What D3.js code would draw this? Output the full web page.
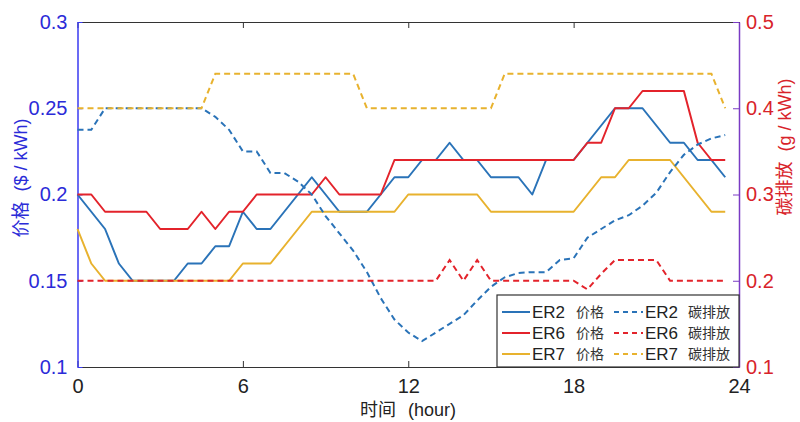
<!DOCTYPE html>
<html>
<head>
<meta charset="utf-8">
<script src="https://cdn.jsdelivr.net/npm/d3@7"></script>
<style>
  html, body { margin: 0; padding: 0; background: #fff; }
  svg { display: block; }
  text { font-family: "Liberation Sans", Arial, sans-serif; }
  .cjk { font-family: "Noto Sans CJK SC", sans-serif; }
</style>
</head>
<body>
<svg id="chart" width="800" height="422"></svg>
<script>
// Half-hour time steps, 0 .. 23.5 h
const hours = d3.range(0, 24, 0.5);

// Electricity price ($/kWh)
const er2Price = [0.20,0.19,0.18,0.16,0.15,0.15,0.15,0.15,0.16,0.16,0.17,0.17,
                  0.19,0.18,0.18,0.19,0.20,0.21,0.20,0.19,0.19,0.19,0.20,0.21,
                  0.21,0.22,0.22,0.23,0.22,0.22,0.21,0.21,0.21,0.20,0.22,0.22,
                  0.22,0.23,0.24,0.25,0.25,0.25,0.24,0.23,0.23,0.22,0.22,0.21];
const er6Price = [0.20,0.20,0.19,0.19,0.19,0.19,0.18,0.18,0.18,0.19,0.18,0.19,
                  0.19,0.20,0.20,0.20,0.20,0.20,0.21,0.20,0.20,0.20,0.20,0.22,
                  0.22,0.22,0.22,0.22,0.22,0.22,0.22,0.22,0.22,0.22,0.22,0.22,
                  0.22,0.23,0.23,0.25,0.25,0.26,0.26,0.26,0.26,0.23,0.22,0.22];
const er7Price = [0.18,0.16,0.15,0.15,0.15,0.15,0.15,0.15,0.15,0.15,0.15,0.15,
                  0.16,0.16,0.16,0.17,0.18,0.19,0.19,0.19,0.19,0.19,0.19,0.19,
                  0.20,0.20,0.20,0.20,0.20,0.20,0.19,0.19,0.19,0.19,0.19,0.19,
                  0.19,0.20,0.21,0.21,0.22,0.22,0.22,0.22,0.21,0.20,0.19,0.19];

// Carbon emission (g/kWh)
const er2Carbon = [0.375,0.375,0.40,0.40,0.40,0.40,0.40,0.40,0.40,0.40,0.39,0.375,
                   0.35,0.35,0.325,0.325,0.315,0.30,0.275,0.255,0.235,0.21,0.18,0.155,
                   0.14,0.13,0.14,0.15,0.16,0.177,0.193,0.204,0.209,0.21,0.21,0.224,
                   0.226,0.25,0.26,0.27,0.276,0.287,0.302,0.326,0.346,0.358,0.365,0.369];
const er6Carbon = [0.20,0.20,0.20,0.20,0.20,0.20,0.20,0.20,0.20,0.20,0.20,0.20,
                   0.20,0.20,0.20,0.20,0.20,0.20,0.20,0.20,0.20,0.20,0.20,0.20,
                   0.20,0.20,0.20,0.224,0.20,0.224,0.20,0.20,0.20,0.20,0.20,0.20,
                   0.20,0.19,0.208,0.224,0.224,0.224,0.224,0.20,0.20,0.20,0.20,0.20];
const er7Carbon = [0.40,0.40,0.40,0.40,0.40,0.40,0.40,0.40,0.40,0.40,0.44,0.44,
                   0.44,0.44,0.44,0.44,0.44,0.44,0.44,0.44,0.44,0.40,0.40,0.40,
                   0.40,0.40,0.40,0.40,0.40,0.40,0.40,0.44,0.44,0.44,0.44,0.44,
                   0.44,0.44,0.44,0.44,0.44,0.44,0.44,0.44,0.44,0.44,0.44,0.40];

const xTicks = [0, 6, 12, 18, 24];
const leftTicks = [0.1, 0.15, 0.2, 0.25, 0.3];
const rightTicks = [0.1, 0.2, 0.3, 0.4, 0.5];

const seriesNames = ["ER2", "ER6", "ER7"];
const colors = { ER2: "#2a73b8", ER6: "#e3232b", ER7: "#e8b22e" };
const priceLabel = "价格";
const carbonLabel = "碳排放";

const W = 800, H = 422;
const m = { left: 77.5, right: 61, top: 22, bottom: 55 };
const svg = d3.select("#chart");

const x = d3.scaleLinear().domain([0, 24]).range([m.left, W - m.right]);
const yL = d3.scaleLinear().domain([0.1, 0.3]).range([H - m.bottom, m.top]);
const yR = d3.scaleLinear().domain([0.1, 0.5]).range([H - m.bottom, m.top]);

const blueAxis = "#2b2bd8", redText = "#d8232a", purpleAxis = "#7a3bc4";

// Top and bottom frame lines with inward ticks
const xAxisB = d3.axisBottom(x).tickValues(xTicks).tickSizeInner(-6).tickSizeOuter(0).tickFormat(d3.format("d")).tickPadding(12);
const gB = svg.append("g").attr("transform", `translate(0,${yL(0.1)})`).call(xAxisB);
gB.select(".domain").attr("stroke", "#333").attr("stroke-width", 1.2);
gB.selectAll(".tick line").attr("stroke", "#333");
gB.selectAll(".tick text").attr("fill", "#222").attr("font-size", 20);

const xAxisT = d3.axisTop(x).tickValues(xTicks).tickSizeInner(-6).tickSizeOuter(0).tickFormat("");
const gT = svg.append("g").attr("transform", `translate(0,${m.top})`).call(xAxisT);
gT.select(".domain").attr("stroke", "#333").attr("stroke-width", 1.2);
gT.selectAll(".tick line").attr("stroke", "#333");

// Left axis: price
const yAxisL = d3.axisLeft(yL).tickValues(leftTicks).tickSizeInner(-5).tickSizeOuter(0)
  .tickFormat(d => d3.format("")(+d.toFixed(2))).tickPadding(10);
const gL = svg.append("g").attr("transform", `translate(${m.left},0)`).call(yAxisL);
gL.select(".domain").attr("stroke", "#3a3af0").attr("stroke-width", 1.5);
gL.selectAll(".tick line").attr("stroke", "#3a3af0");
gL.selectAll(".tick text").attr("fill", blueAxis).attr("font-size", 20);

// Right axis: carbon emission
const yAxisR = d3.axisRight(yR).tickValues(rightTicks).tickSizeInner(-6).tickSizeOuter(0)
  .tickFormat(d => d3.format("")(+d.toFixed(1))).tickPadding(7);
const gR = svg.append("g").attr("transform", `translate(${W - m.right},0)`).call(yAxisR);
gR.select(".domain").attr("stroke", purpleAxis).attr("stroke-width", 1.5);
gR.selectAll(".tick line").attr("stroke", purpleAxis);
gR.selectAll(".tick text").attr("fill", redText).attr("font-size", 20);

// Series lines
const lineL = d3.line().x((d, i) => x(hours[i])).y(d => yL(d));
const lineR = d3.line().x((d, i) => x(hours[i])).y(d => yR(d));
const plot = svg.append("g");
const priceSeries = [er2Price, er6Price, er7Price];
const carbonSeries = [er2Carbon, er6Carbon, er7Carbon];
seriesNames.forEach((n, k) => {
  plot.append("path").attr("d", lineL(priceSeries[k])).attr("fill", "none")
    .attr("stroke", colors[n]).attr("stroke-width", 2).attr("stroke-linejoin", "round");
});
seriesNames.forEach((n, k) => {
  plot.append("path").attr("d", lineR(carbonSeries[k])).attr("fill", "none")
    .attr("stroke", colors[n]).attr("stroke-width", 2).attr("stroke-dasharray", "6,4");
});

// Axis titles
function axisTitle(cx, cy, parts, color) {
  const t = svg.append("text").attr("transform", `translate(${cx},${cy}) rotate(-90)`)
    .attr("text-anchor", "middle").attr("fill", color).attr("font-size", 18);
  t.append("tspan").attr("class", "cjk").text(parts[0]);
  t.append("tspan").attr("dx", 10).text(parts[1]);
}
axisTitle(27, 178, ["价格", "($ / kWh)"], blueAxis);
axisTitle(791, 147, ["碳排放", "(g / kWh)"], redText);

const xt = svg.append("text").attr("x", 408).attr("y", 416).attr("text-anchor", "middle")
  .attr("fill", "#222").attr("font-size", 18);
xt.append("tspan").attr("class", "cjk").text("时间");
xt.append("tspan").attr("dx", 12).text("(hour)");

// Legend
const lg = svg.append("g");
lg.append("rect").attr("x", 497).attr("y", 295).attr("width", W - m.right - 497).attr("height", yL(0.1) - 295)
  .attr("fill", "#fff").attr("stroke", "#333").attr("stroke-width", 1.2);
seriesNames.forEach((n, k) => {
  const yy = 312 + k * 21;
  lg.append("line").attr("x1", 502).attr("x2", 530).attr("y1", yy).attr("y2", yy)
    .attr("stroke", colors[n]).attr("stroke-width", 2);
  lg.append("text").attr("x", 532).attr("y", yy + 6).attr("font-size", 17).attr("fill", "#222").text(n);
  lg.append("text").attr("class", "cjk").attr("x", 576).attr("y", yy + 5).attr("font-size", 14).attr("fill", "#333").text(priceLabel);
  lg.append("line").attr("x1", 614).attr("x2", 643).attr("y1", yy).attr("y2", yy)
    .attr("stroke", colors[n]).attr("stroke-width", 2).attr("stroke-dasharray", "5,4");
  lg.append("text").attr("x", 645).attr("y", yy + 6).attr("font-size", 17).attr("fill", "#222").text(n);
  lg.append("text").attr("class", "cjk").attr("x", 688).attr("y", yy + 5).attr("font-size", 14).attr("fill", "#333").text(carbonLabel);
});
</script>
</body>
</html>
